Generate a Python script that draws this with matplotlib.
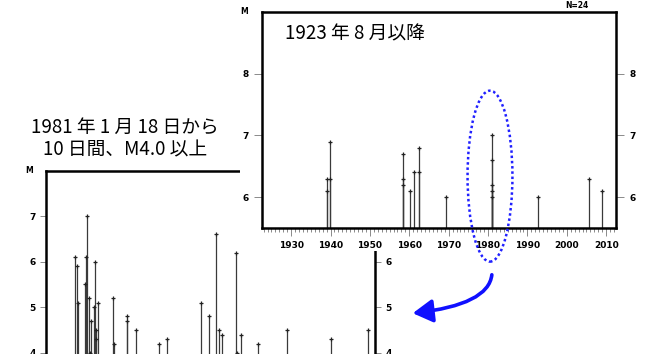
import matplotlib
matplotlib.use("Agg")
import matplotlib.pyplot as plt
from matplotlib.patches import Ellipse, FancyArrowPatch, Rectangle

plt.rcParams['font.family'] = ['Noto Sans CJK JP', 'DejaVu Sans']

# 1981-01-18 からの経過日数と M (M4.0 以上, 10 日間)
days_1981 = [0.88, 0.95, 0.97, 1.19, 1.24, 1.22, 1.32, 1.36, 1.33, 1.45, 1.49, 1.52, 1.52,
             1.58, 2.03, 2.07, 2.45, 2.45, 2.73, 3.43, 3.69, 4.70, 4.95, 5.18, 5.27, 5.35,
             5.77, 5.81, 5.92, 6.43, 7.33, 8.66, 9.78]
mags_1981 = [6.1, 5.9, 5.1, 5.5, 7.0, 6.1, 5.2, 4.7, 4.0, 5.0, 6.0, 4.5, 4.3,
             5.1, 5.2, 4.2, 4.8, 4.7, 4.5, 4.2, 4.3, 5.1, 4.8, 6.6, 4.5, 4.4,
             6.2, 4.0, 4.4, 4.2, 4.5, 4.3, 4.5]

# 1923 年 8 月以降 M6.0 以上
years_long = [1939.06, 1939.06, 1939.9, 1939.9, 1958.35, 1958.35, 1958.35, 1960.2,
              1961.2, 1962.4, 1962.4, 1969.3, 1981.1, 1981.1, 1981.1, 1981.1, 1981.1,
              1992.7, 2005.7, 2009.0]
mags_long = [6.3, 6.1, 6.9, 6.3, 6.7, 6.3, 6.2, 6.1,
             6.4, 6.8, 6.4, 6.0, 7.0, 6.6, 6.2, 6.1, 6.0,
             6.0, 6.3, 6.1]
n_label = 'N=24'

W, H = 654, 354
fig = plt.figure(figsize=(W / 100, H / 100), dpi=100)


def px_axes(left, top, right, bottom):
    return fig.add_axes([left / W, 1 - bottom / H, (right - left) / W, (bottom - top) / H])


def style(ax, lw=1.8):
    for s in ax.spines.values():
        s.set_linewidth(lw)
    ax.tick_params(axis='both', which='both', direction='out', width=0.6, color='#777777',
                   labelsize=6.5)
    for lab in ax.get_xticklabels() + ax.get_yticklabels():
        lab.set_fontweight('bold')
        lab.set_family('DejaVu Sans')


def stems(ax, x, m, base):
    ax.vlines(x, base, m, color='#3a3a3a', lw=0.9)
    ax.plot(x, m, '+', ms=3.5, mew=0.9, color='#222222', ls='none')


# --- 1981 年の 10 日間 ---
ax1 = px_axes(46, 170.7, 375, 375.5)
y0 = 3.5
ax1.set_xlim(0, 10)
ax1.set_ylim(y0, 8.0)
stems(ax1, days_1981, mags_1981, y0)
ax1.set_xticks([])
ax1.set_yticks([4, 5, 6, 7])
ax1.tick_params(axis='y', which='both', right=True, labelright=True, length=4)
style(ax1)
ax1.text(-0.05, 1.0, 'M', transform=ax1.transAxes, fontsize=5.5, fontweight='bold',
         family='DejaVu Sans', ha='center', va='center')
fig.text(125 / W, 1 - 138.5 / H, '1981 年 1 月 18 日から\n10 日間、M4.0 以上',
         fontsize=13.5, ha='center', va='center', linespacing=1.08)

# 白地
bg = fig.add_artist(Rectangle((240 / W, 1 - 251 / H), 414 / W, 251 / H,
                              transform=fig.transFigure, facecolor='white',
                              edgecolor='none', zorder=1))

# --- 1923 年以降 ---
ax2 = px_axes(262, 12, 616, 228)
ax2.set_zorder(2)
ax2.set_xlim(1922.6, 2012.5)
ax2.set_ylim(5.5, 9.0)
stems(ax2, years_long, mags_long, 5.5)
ax2.set_xticks(range(1930, 2011, 10))
ax2.set_xticks(range(1923, 2013), minor=True)
ax2.set_yticks([6, 7, 8])
ax2.tick_params(axis='y', which='both', right=True, labelright=True, length=6)
ax2.tick_params(axis='x', which='major', length=6)
ax2.tick_params(axis='x', which='minor', length=3)
style(ax2)
ax2.text(-0.05, 1.0, 'M', transform=ax2.transAxes, fontsize=5.5, fontweight='bold',
         family='DejaVu Sans', ha='center', va='center')
ax2.text(0.89, 1.03, n_label, transform=ax2.transAxes, fontsize=5.5, fontweight='bold',
         family='DejaVu Sans', ha='center', va='center')
ax2.text(0.065, 0.9, '1923 年 8 月以降', transform=ax2.transAxes, fontsize=13.5,
         ha='left', va='center')

# 1981 年の地震を囲む
ell = Ellipse((1980.5, 6.34), width=11.4, height=2.77, fill=False, edgecolor='#2020ff',
              lw=1.8, ls=(0, (1, 1.1)), clip_on=False, zorder=5)
ax2.add_patch(ell)

arrow = FancyArrowPatch((492 / W, 1 - 272 / H), (410 / W, 1 - 313.5 / H),
                        transform=fig.transFigure,
                        connectionstyle='angle3,angleA=90,angleB=6',
                        arrowstyle='-|>,head_length=0.6,head_width=0.35',
                        mutation_scale=20, color='#1010ff', lw=2.6, zorder=6)
fig.add_artist(arrow)

fig.savefig('out.png', dpi=100)
